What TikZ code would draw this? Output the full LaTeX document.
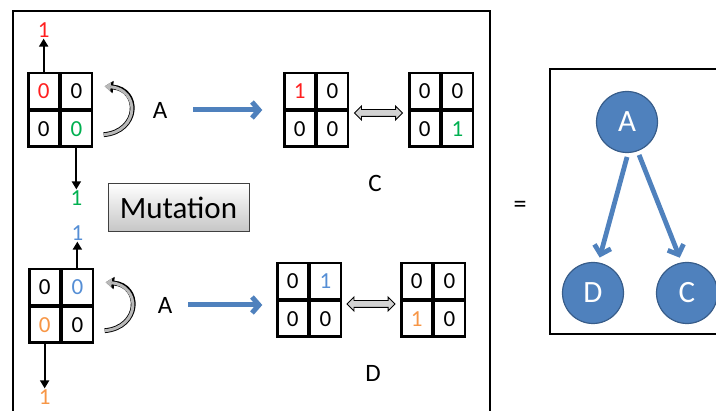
\documentclass[tikz,border=0pt]{standalone}
\usepackage{fontspec}
\setmainfont{Carlito}
\usepackage{tikz}
\usetikzlibrary{arrows.meta, calc, shapes.arrows}

\definecolor{mred}{HTML}{FF1F1F}
\definecolor{mgreen}{HTML}{00B050}
\definecolor{mblue}{HTML}{4F81BD}
\definecolor{mbluetxt}{HTML}{558ED5}
\definecolor{morange}{HTML}{F79646}
\definecolor{mdark}{HTML}{385D8A}

\tikzset{
  cell/.style={draw, line width=2.2pt, minimum width=30.5pt, minimum height=35.5pt, inner sep=0pt, font=\fontsize{23}{26}\selectfont},
  gridbox/.style={minimum width=61pt, minimum height=71pt, inner sep=0pt},
  bit/.style={inner sep=1pt, font=\fontsize{23}{26}\selectfont},
  lbl/.style={inner sep=2pt, font=\fontsize{25}{29}\selectfont},
  flip/.style={line width=1.8pt, -{Triangle[length=8pt,width=9pt]}},
  bluearr/.style={mblue, line width=5pt, -{Straight Barb[length=7pt,width=16pt]}},
  dagarr/.style={mblue, line width=4.8pt, -{Straight Barb[length=8pt,width=17pt]}},
  curvarr/.style={gray!55, line width=3pt, -{Triangle[length=6pt,width=9pt]},
    preaction={draw=black, line width=4.8pt, -{Triangle[length=8.5pt,width=12pt]}}},
  swap/.style={double arrow, draw, line width=0.9pt, fill=gray!35, minimum height=48pt, inner xsep=0pt, inner ysep=3pt, double arrow head extend=3.5pt},
  dagnode/.style={circle, fill=mblue, draw=mdark, line width=1.2pt, minimum size=61pt, inner sep=0pt, text=white, font=\fontsize{31}{35}\selectfont},
}

% grid of 2x2 cells: name, position, tl, tr, bl, br
\newcommand{\bitgrid}[6]{%
  \node[gridbox] (#1) at #2 {};
  \node[cell, anchor=south east] (#1-tl) at (#1.center) {#3};
  \node[cell, anchor=south west] (#1-tr) at (#1.center) {#4};
  \node[cell, anchor=north east] (#1-bl) at (#1.center) {#5};
  \node[cell, anchor=north west] (#1-br) at (#1.center) {#6};
}

\begin{document}
\begin{tikzpicture}[x=1pt, y=1pt]
\useasboundingbox (0,0) rectangle (716,-411);

% frames
\draw[line width=2.5pt] (13,-420)--(13,-11)--(490,-11)--(490,-420);
\draw[line width=2.5pt] (720,-69)--(550,-69)--(550,-334)--(720,-334);

% upper row
\bitgrid{g1}{(60,-110)}{\textcolor{mred}{0}}{0}{0}{\textcolor{mgreen}{0}}
\bitgrid{gc1}{(316,-110)}{\textcolor{mred}{1}}{0}{0}{0}
\bitgrid{gc2}{(441,-110)}{0}{0}{0}{\textcolor{mgreen}{1}}
\node[bit, text=mred] (r1) at (g1-tl.north |- 0,-30) {1};
\node[bit, text=mgreen] (g1lbl) at (g1-br.south |- 0,-198) {1};
\draw[flip] (g1-tl.north) -- (r1);
\draw[flip] (g1-br.south) -- (g1lbl);
\draw[curvarr] ([shift={(13,11)}]g1.south east) to[out=5, in=-5, looseness=1.9] ([shift={(14,-12)}]g1.north east);
\node[lbl] (aOne) at (160,-110) {A};
\draw[bluearr, shorten <=24pt, shorten >=23pt] (aOne) -- (gc1);
\path (gc1) -- (gc2) node[midway, swap, yshift=-3pt] (sw1) {};
\node[lbl] (cLbl) at (375,-183) {C};

% mutation
\node[draw=black!75, line width=1pt, top color=white, bottom color=gray!45, minimum width=141pt, minimum height=48pt, inner sep=0pt, font=\fontsize{31}{36}\selectfont] (mut) at (178.5,-207.5) {Mutation};

% lower row
\bitgrid{g2}{(61,-306)}{0}{\textcolor{mbluetxt}{0}}{\textcolor{morange}{0}}{0}
\bitgrid{gd1}{(309,-300)}{0}{\textcolor{mbluetxt}{1}}{0}{0}
\bitgrid{gd2}{(433,-300)}{0}{0}{\textcolor{morange}{1}}{0}
\node[bit, text=mbluetxt] (b1) at (g2-tr.north |- 0,-233) {1};
\node[bit, text=morange] (o1) at (g2-bl.south |- 0,-397) {1};
\draw[flip] (g2-tr.north) -- (b1);
\draw[flip] (g2-bl.south) -- (o1);
\draw[curvarr] ([shift={(13,11)}]g2.south east) to[out=5, in=-5, looseness=1.9] ([shift={(14,-12)}]g2.north east);
\node[lbl] (aTwo) at (165,-305) {A};
\draw[bluearr, shorten <=14pt, shorten >=16pt] (aTwo) -- (aTwo -| gd1.west);
\path (gd1) -- (gd2) node[midway, swap, yshift=-4pt] (sw2) {};
\node[lbl] (dLbl) at (373,-373) {D};

% equals
\node[font=\fontsize{26}{30}\selectfont] (eq) at (520,-207) {=};

% graph
\node[dagnode] (A) at (627,-122) {A};
\node[dagnode] (D) at (593,-293) {D};
\node[dagnode] (C) at (687,-293) {C};
\draw[dagarr, shorten <=4pt, shorten >=5pt] (A.-88) -- (D.80);
\draw[dagarr, shorten <=4pt, shorten >=5pt] (A.-70) -- (C.100);
\end{tikzpicture}
\end{document}
